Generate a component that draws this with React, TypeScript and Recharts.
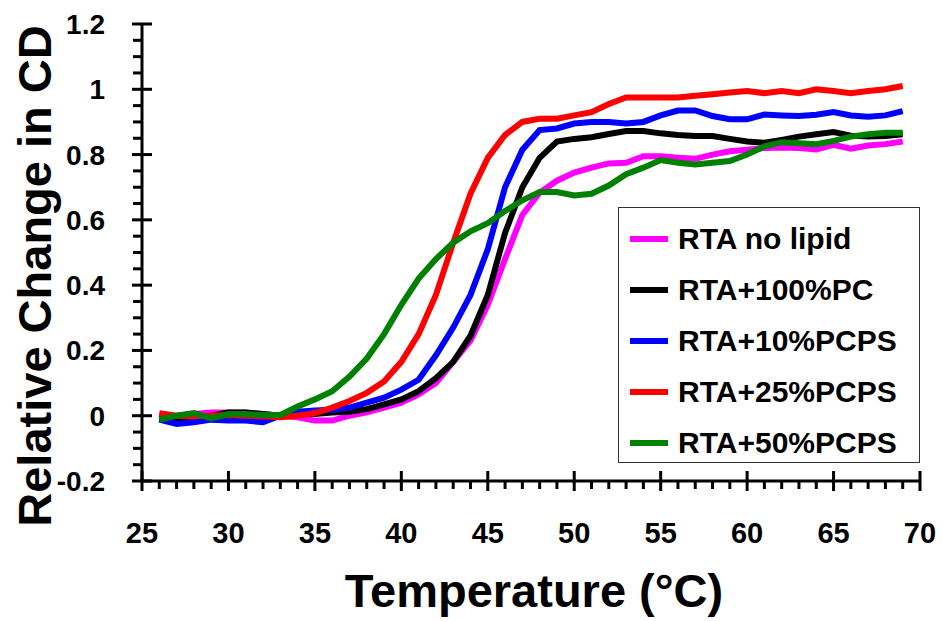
import React from 'react';
import { LineChart, Line, XAxis, YAxis, Legend } from 'recharts';

const temps = [26,27,28,29,30,31,32,33,34,35,36,37,38,39,40,41,42,43,44,45,46,47,48,49,50,51,52,53,54,55,56,57,58,59,60,61,62,63,64,65,66,67,68,69];

const noLipid = [-0.01,0.0,0.005,0.01,0.01,0.01,0.005,0.0,-0.005,-0.015,-0.015,0.0,0.01,0.025,0.04,0.065,0.1,0.165,0.23,0.34,0.48,0.615,0.683,0.72,0.745,0.76,0.773,0.775,0.795,0.795,0.79,0.787,0.8,0.81,0.815,0.82,0.822,0.82,0.816,0.83,0.818,0.828,0.832,0.84];
const pc100 = [-0.01,-0.015,-0.01,0.0,0.01,0.01,0.005,0.0,0.005,0.005,0.01,0.012,0.02,0.035,0.05,0.075,0.115,0.165,0.245,0.37,0.56,0.7,0.79,0.84,0.848,0.853,0.863,0.872,0.872,0.865,0.86,0.857,0.857,0.848,0.84,0.836,0.845,0.855,0.862,0.869,0.858,0.855,0.857,0.862];
const pcps10 = [-0.012,-0.025,-0.02,-0.012,-0.015,-0.015,-0.02,0.0,0.012,0.016,0.018,0.025,0.04,0.055,0.08,0.11,0.185,0.27,0.37,0.51,0.7,0.815,0.875,0.88,0.895,0.9,0.9,0.895,0.9,0.92,0.935,0.935,0.918,0.908,0.908,0.923,0.92,0.918,0.922,0.93,0.92,0.916,0.92,0.933];
const pcps25 = [0.008,0.0,-0.002,0.0,0.002,0.0,-0.002,-0.005,0.0,0.008,0.025,0.045,0.07,0.105,0.165,0.25,0.37,0.53,0.68,0.79,0.86,0.9,0.91,0.91,0.92,0.93,0.955,0.975,0.975,0.975,0.975,0.98,0.985,0.99,0.995,0.988,0.995,0.988,1.0,0.995,0.988,0.995,1.0,1.01];
const pcps50 = [-0.012,0.0,0.008,-0.008,0.005,0.005,0.002,0.002,0.028,0.05,0.075,0.12,0.175,0.25,0.34,0.42,0.48,0.53,0.565,0.59,0.627,0.66,0.685,0.685,0.675,0.68,0.705,0.74,0.76,0.783,0.775,0.77,0.775,0.78,0.8,0.825,0.838,0.835,0.832,0.842,0.855,0.862,0.867,0.867];

const seriesNames = ['RTA no lipid', 'RTA+100%PC', 'RTA+10%PCPS', 'RTA+25%PCPS', 'RTA+50%PCPS'];
const seriesKeys = ['noLipid', 'pc100', 'pcps10', 'pcps25', 'pcps50'];
const seriesColors = ['#FF00FF', '#000000', '#0000FF', '#FF0000', '#008000'];

const xTicks = [25,26,27,28,29,30,31,32,33,34,35,36,37,38,39,40,41,42,43,44,45,46,47,48,49,50,51,52,53,54,55,56,57,58,59,60,61,62,63,64,65,66,67,68,69,70];
const yTicks = [-0.2,-0.15,-0.1,-0.05,0,0.05,0.1,0.15,0.2,0.25,0.3,0.35,0.4,0.45,0.5,0.55,0.6,0.65,0.7,0.75,0.8,0.85,0.9,0.95,1,1.05,1.1,1.15,1.2];
const yMajorTicks = [-0.2, 0, 0.2, 0.4, 0.6, 0.8, 1, 1.2];
const yTickLabels = ['-0.2', '0', '0.2', '0.4', '0.6', '0.8', '1', '1.2'];

const data = temps.map((t, i) => ({
  t,
  noLipid: noLipid[i],
  pc100: pc100[i],
  pcps10: pcps10[i],
  pcps25: pcps25[i],
  pcps50: pcps50[i],
}));

const FONT = '"Liberation Sans", Arial, Helvetica, sans-serif';

// Tick marks drawn as filled rectangles at the tick position given by the axis
const XTick = (props: any) => {
  const x = Number(props.x);
  const y = Number(props.y);
  const v = props.payload.value;
  const major = Math.abs(v % 5) < 1e-6;
  return (
    <g>
      {major ? (
        <rect x={x - 1.5} y={y - 10} width={3} height={20} fill="#000" stroke="none" />
      ) : (
        <rect x={x - 1.5} y={y} width={3} height={8} fill="#000" stroke="none" />
      )}
      {major && (
        <text x={x} y={y + 62} textAnchor="middle" fontSize={29} fontWeight="bold" fontFamily={FONT} fill="#000" stroke="none">
          {String(v)}
        </text>
      )}
    </g>
  );
};

const YTick = (props: any) => {
  const x = Number(props.x);
  const y = Number(props.y);
  const v = props.payload.value;
  const idx = yMajorTicks.findIndex((m) => Math.abs(m - v) < 1e-6);
  const major = idx >= 0;
  return (
    <g>
      {major ? (
        <rect x={x - 10} y={y - 1.5} width={20} height={3} fill="#000" stroke="none" />
      ) : (
        <rect x={x - 9} y={y - 1.5} width={9} height={3} fill="#000" stroke="none" />
      )}
      {major && (
        <text x={x - 37} y={y + 10} textAnchor="end" fontSize={28} fontWeight="bold" fontFamily={FONT} fill="#000" stroke="none">
          {yTickLabels[idx]}
        </text>
      )}
    </g>
  );
};

const LegendContent = () => (
  <div style={{ boxSizing: 'border-box', width: 302, height: 256, border: '1.5px solid #333', background: '#fff', paddingTop: 5, paddingLeft: 11 }}>
    {seriesNames.map((name, i) => (
      <div key={name} style={{ height: 51, display: 'flex', alignItems: 'center' }}>
        <div style={{ width: 38, height: 6, background: seriesColors[i], marginRight: 10 }} />
        <span style={{ fontFamily: FONT, fontWeight: 'bold', fontSize: 30, color: '#000', lineHeight: '51px' }}>{name}</span>
      </div>
    ))}
  </div>
);

export default function App() {
  return (
    <div style={{ position: 'absolute', left: 0, top: 0, width: 943, height: 621, background: '#fff' }}>
      <LineChart width={943} height={621} data={data} margin={{ top: 24, right: 23, bottom: 80, left: 62 }}>
        <XAxis
          dataKey="t"
          type="number"
          domain={[25, 70]}
          allowDataOverflow
          ticks={xTicks}
          interval={0}
          tick={<XTick />}
          tickLine={false}
          tickSize={0}
          tickMargin={0}
          height={60}
          axisLine={{ stroke: '#000', strokeWidth: 3 }}
          label={{
            content: () => (
              <text x={534} y={591} dy="0.35em" textAnchor="middle" fontSize={47} fontWeight="bold" fontFamily={FONT} fill="#000">
                Temperature (°C)
              </text>
            ),
          }}
        />
        <YAxis
          type="number"
          domain={[-0.2, 1.2]}
          allowDataOverflow
          ticks={yTicks}
          interval={0}
          tick={<YTick />}
          tickLine={false}
          tickSize={0}
          tickMargin={0}
          width={80}
          axisLine={{ stroke: '#000', strokeWidth: 3 }}
          label={{
            content: () => (
              <text x={35} y={276} dy="0.35em" textAnchor="middle" fontSize={47} fontWeight="bold" fontFamily={FONT} fill="#000" transform="rotate(-90, 35, 276)">
                Relative Change in CD
              </text>
            ),
          }}
        />
        <Legend
          layout="horizontal"
          verticalAlign="middle"
          align="center"
          content={<LegendContent />}
          wrapperStyle={{ left: 618, top: 207, width: 302, height: 256 }}
        />
        {seriesKeys.map((k, i) => (
          <Line
            key={k}
            type="linear"
            dataKey={k}
            name={seriesNames[i]}
            stroke={seriesColors[i]}
            strokeWidth={6}
            dot={false}
            activeDot={false}
            isAnimationActive={false}
          />
        ))}
      </LineChart>
    </div>
  );
}
